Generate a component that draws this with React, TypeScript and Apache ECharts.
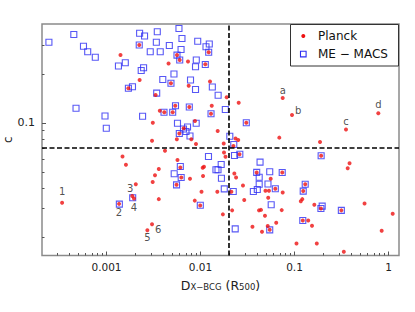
import React, { useEffect, useRef } from "react";
import * as echarts from "echarts";

// ---- data (D_X-BCG in R500, concentration c) ----
// Planck clusters
const planckX = [
  0.00141, 0.00223, 0.00225, 0.00171, 0.00333, 0.00369, 0.00412, 0.00311, 0.00305, 0.00457,
  0.00562, 0.00601, 0.00736, 0.01125, 0.01222, 0.00485, 0.01262, 0.00749, 0.00539, 0.0076,
  0.00506, 0.01294, 0.01318, 0.019, 0.0255, 0.0749, 0.0941, 0.353, 0.779, 0.00874,
  0.01524, 0.0056, 0.00798, 0.0236, 0.0252, 0.0689, 0.0307, 0.1868, 0.00662, 0.00595,
  0.01766, 0.00895, 0.00419, 0.00148, 0.00161, 0.0036, 0.00328, 0.0031, 0.00205, 0.000337,
  0.00136, 0.00188, 0.00196, 0.0036, 0.00272, 0.00305, 0.00569, 0.0061, 0.00625, 0.00556,
  0.00773, 0.01055, 0.01089, 0.01064, 0.01025, 0.00869, 0.00993, 0.01778, 0.01845, 0.0224,
  0.026, 0.0151, 0.0213, 0.0217, 0.0173, 0.0229, 0.0239, 0.0283, 0.0292, 0.0396,
  0.0741, 0.0558, 0.0625, 0.0491, 0.0535, 0.0525, 0.0749, 0.0419, 0.044, 0.0485,
  0.0639, 0.0519, 0.0545, 0.0357, 0.0451, 0.192, 0.385, 0.368, 0.13, 0.1238,
  0.121, 0.1167, 0.1625, 0.191, 0.315, 0.556, 1.108, 0.1225, 0.14, 0.1535,
  0.846, 0.105, 0.1726, 0.3346, 0.0731,
];
const planckY = [
  0.261, 0.301, 0.1837, 0.1633, 0.1486, 0.1188, 0.1163, 0.1004, 0.0779, 0.2317,
  0.261, 0.2435, 0.2384, 0.2291, 0.2715, 0.1752, 0.1797, 0.1694, 0.1276, 0.1253,
  0.1163, 0.114, 0.1276, 0.1438, 0.1331, 0.1423, 0.1119, 0.0912, 0.1148, 0.1029,
  0.0893, 0.0794, 0.0794, 0.0804, 0.0787, 0.0813, 0.1004, 0.0764, 0.0928, 0.0862,
  0.0748, 0.0743, 0.0676, 0.0623, 0.0554, 0.0522, 0.0478, 0.0434, 0.0421, 0.0324,
  0.0319, 0.0356, 0.0344, 0.0341, 0.022, 0.0239, 0.0593, 0.0533, 0.0463, 0.0418,
  0.0455, 0.0532, 0.0539, 0.0473, 0.0378, 0.0334, 0.0312, 0.0659, 0.0621, 0.0722,
  0.0643, 0.0379, 0.0378, 0.0291, 0.0275, 0.049, 0.0463, 0.0414, 0.0337, 0.0497,
  0.0497, 0.0455, 0.0395, 0.0384, 0.0384, 0.0348, 0.0375, 0.0291, 0.0293, 0.027,
  0.0244, 0.0233, 0.0221, 0.0231, 0.0215, 0.0629, 0.0566, 0.0527, 0.0421, 0.0382,
  0.0341, 0.0331, 0.0315, 0.0299, 0.0291, 0.0321, 0.0277, 0.0252, 0.0252, 0.0234,
  0.0218, 0.0182, 0.0182, 0.01623, 0.0292,
];
// tagged Planck points: [index in planck arrays, tag]
const planckTags: [number, string][] = [
  [49, "1"], [50, "2"], [51, "3"], [52, "4"], [54, "5"], [55, "6"],
  [25, "a"], [26, "b"], [27, "c"], [28, "d"],
];

// ME-MACS clusters
const macsX = [
  0.000244, 0.000449, 0.000569, 0.000631, 0.00076, 0.00134, 0.001585, 0.00225, 0.00254, 0.00223,
  0.00347, 0.00339, 0.00292, 0.00373, 0.00248, 0.00234, 0.00397, 0.00171, 0.00189, 0.00342,
  0.000474, 0.000964, 0.00242, 0.000995, 0.00409, 0.0059, 0.00635, 0.00466, 0.00934, 0.0124,
  0.01144, 0.01222, 0.00621, 0.00562, 0.00601, 0.00902, 0.00885, 0.01125, 0.00522, 0.00783,
  0.00485, 0.00885, 0.01336, 0.0154, 0.00542, 0.0076, 0.00506, 0.01294, 0.01837, 0.00569,
  0.009, 0.00659, 0.00728, 0.00701, 0.00773, 0.00595, 0.0307, 0.0205, 0.0226, 0.023,
  0.0262, 0.01216, 0.0166, 0.0146, 0.01535, 0.0167, 0.00525, 0.0061, 0.00623, 0.00556,
  0.00995, 0.0179, 0.0223, 0.0234, 0.043, 0.0396, 0.0545, 0.074, 0.0421, 0.0421,
  0.0522, 0.0365, 0.0402, 0.0625, 0.0565, 0.0545, 0.192, 0.13, 0.1238, 0.197,
  0.191, 0.315, 0.1225, 0.00137, 0.0019,
];
const macsY = [
  0.3126, 0.349, 0.2955, 0.2734, 0.2529, 0.2239, 0.2344, 0.3551, 0.3418, 0.301,
  0.3627, 0.3131, 0.2734, 0.2734, 0.2183, 0.2101, 0.1849, 0.1633, 0.1668, 0.1524,
  0.1231, 0.1104, 0.1099, 0.0928, 0.1163, 0.38, 0.33, 0.2988, 0.3171, 0.3055,
  0.2935, 0.2715, 0.2825, 0.261, 0.2435, 0.2435, 0.2213, 0.2286, 0.1998, 0.1837,
  0.1752, 0.1605, 0.1664, 0.148, 0.1276, 0.1253, 0.1163, 0.114, 0.121, 0.0996,
  0.0996, 0.0919, 0.0945, 0.0887, 0.0832, 0.0862, 0.1004, 0.0829, 0.0738, 0.0632,
  0.0643, 0.0623, 0.0556, 0.0517, 0.0517, 0.0458, 0.0488, 0.0541, 0.0463, 0.0417,
  0.0313, 0.0394, 0.038, 0.0224, 0.0575, 0.0498, 0.0502, 0.0497, 0.0465, 0.0421,
  0.0422, 0.038, 0.0391, 0.0395, 0.0315, 0.0221, 0.0629, 0.0421, 0.0382, 0.0309,
  0.0299, 0.0291, 0.0252, 0.0318, 0.0348,
];

// axes
const xLimits = [0.000206, 1.293];
const yLimits = [0.01538, 0.4049];
const xMajorTicks = [0.001, 0.01, 0.1, 1];
const xMinorTicks = [
  0.0003, 0.0004, 0.0005, 0.0006, 0.0007, 0.0008, 0.0009,
  0.002, 0.003, 0.004, 0.005, 0.006, 0.007, 0.008, 0.009,
  0.02, 0.03, 0.04, 0.05, 0.06, 0.07, 0.08, 0.09,
  0.2, 0.3, 0.4, 0.5, 0.6, 0.7, 0.8, 0.9,
];
const yMajorTicks = [0.1];
const yMinorTicks = [0.02, 0.03, 0.04, 0.05, 0.06, 0.07, 0.08, 0.09, 0.2, 0.3];
const xCut = 0.0205;
const yCut = 0.075;
const seriesNames = ["Planck", "ME \u2212 MACS"];

const FONT = "DejaVu Sans";
const RED = "#ee1111";
const BLUE = "#2d2df2";
const TXT = "#222";

const tagStyle: Record<string, any> = {
  "1": { position: "top", distance: 4 },
  "2": { position: "bottom", distance: 2 },
  "3": { position: "top", distance: 1, offset: [-2, 0] },
  "4": { position: "bottom", distance: 2 },
  "5": { position: "bottom", distance: 0 },
  "6": { position: "right", distance: 1, offset: [0, 5] },
  a: { position: "top", distance: 1 },
  b: { position: "right", distance: 1, offset: [0, -5] },
  c: { position: "top", distance: 1 },
  d: { position: "top", distance: 2 },
};

const fmt = (v: number) => String(+Number(v).toPrecision(6));

export default function App() {
  const ref = useRef<HTMLDivElement>(null);
  useEffect(() => {
    if (!ref.current) return;
    const chart = echarts.init(ref.current, undefined, { renderer: "svg" });
    const tagMap = new Map<number, string>(planckTags);
    const planckData = planckX.map((x, i) => {
      const tag = tagMap.get(i);
      if (!tag) return [x, planckY[i]];
      return {
        value: [x, planckY[i]],
        label: {
          show: true,
          formatter: tag,
          fontSize: 10,
          color: TXT,
          fontFamily: FONT,
          ...tagStyle[tag],
        },
      };
    });
    const macsData = macsX.map((x, i) => [x, macsY[i]]);

    const baseAxis = {
      type: "log" as const,
      logBase: 10,
      axisLine: { show: false },
      splitLine: { show: false },
    };

    chart.setOption({
      animation: false,
      textStyle: { fontFamily: FONT },
      grid: {
        left: 42,
        right: 16,
        top: 24,
        bottom: 56.5,
        containLabel: false,
        outerBoundsMode: "none",
        show: true,
        borderColor: "#8a8a8a",
        borderWidth: 1.5,
        backgroundColor: "transparent",
      },
      xAxis: [
        {
          ...baseAxis,
          min: xLimits[0],
          max: xLimits[1],
          position: "bottom",
          axisTick: {
            show: true,
            inside: true,
            length: 4,
            customValues: xMajorTicks,
            lineStyle: { color: "#555", width: 1 },
          },
          axisLabel: {
            show: true,
            customValues: xMajorTicks,
            formatter: fmt,
            fontSize: 10.5,
            color: TXT,
            margin: 6,
          },
          name: "{m|D}{s|X\u2212BCG}{m| (R}{s|500}{m|)}",
          nameLocation: "middle",
          nameGap: 23,
          nameTextStyle: {
            rich: {
              m: { fontSize: 12.5, color: TXT, fontFamily: FONT, verticalAlign: "bottom" },
              s: { fontSize: 8.5, color: TXT, fontFamily: FONT, verticalAlign: "bottom" },
            },
          },
        },
        {
          ...baseAxis,
          min: xLimits[0],
          max: xLimits[1],
          position: "bottom",
          axisLabel: { show: false },
          axisTick: {
            show: true,
            inside: true,
            length: 2.5,
            customValues: xMinorTicks,
            lineStyle: { color: "#555", width: 1 },
          },
        },
      ],
      yAxis: [
        {
          ...baseAxis,
          min: yLimits[0],
          max: yLimits[1],
          position: "left",
          axisTick: {
            show: true,
            inside: true,
            length: 4,
            customValues: yMajorTicks,
            lineStyle: { color: "#555", width: 1 },
          },
          axisLabel: {
            show: true,
            customValues: yMajorTicks,
            formatter: fmt,
            fontSize: 11,
            color: TXT,
            margin: 7,
          },
          name: "c",
          nameLocation: "middle",
          nameRotate: 90,
          nameGap: 28,
          nameMoveOverlap: false,
          nameTextStyle: { fontSize: 12, color: TXT, fontFamily: FONT },
        },
        {
          ...baseAxis,
          min: yLimits[0],
          max: yLimits[1],
          position: "left",
          axisLabel: { show: false },
          axisTick: {
            show: true,
            inside: true,
            length: 2.5,
            customValues: yMinorTicks,
            lineStyle: { color: "#555", width: 1 },
          },
        },
      ],
      series: [
        {
          type: "scatter",
          name: seriesNames[1],
          xAxisIndex: 0,
          yAxisIndex: 0,
          symbol: "rect",
          symbolSize: 6,
          itemStyle: { color: "rgba(0,0,0,0)", borderColor: BLUE, borderWidth: 1.1 },
          data: macsData,
          z: 2,
        },
        {
          type: "scatter",
          name: seriesNames[0],
          xAxisIndex: 0,
          yAxisIndex: 0,
          symbol: "circle",
          symbolSize: 4,
          itemStyle: { color: RED },
          data: planckData,
          z: 3,
          markLine: {
            silent: true,
            symbol: "none",
            label: { show: false },
            lineStyle: { color: "#000", width: 1.6, type: [5, 2.5] },
            data: [{ xAxis: xCut }, { yAxis: yCut }],
          },
        },
      ],
      graphic: [
        {
          type: "rect",
          z: 100,
          shape: { x: 290.5, y: 24.5, width: 108, height: 41.5 },
          style: { fill: "#fff", stroke: "#333", lineWidth: 1 },
        },
        {
          type: "circle",
          z: 101,
          shape: { cx: 303.3, cy: 36, r: 2 },
          style: { fill: RED },
        },
        {
          type: "text",
          z: 101,
          x: 318,
          y: 36,
          style: {
            text: seriesNames[0],
            fontSize: 12,
            fontFamily: FONT,
            fill: "#111",
            verticalAlign: "middle",
          },
        },
        {
          type: "rect",
          z: 101,
          shape: { x: 300.5, y: 51.3, width: 5.6, height: 5.6 },
          style: { fill: "none", stroke: BLUE, lineWidth: 1.1 },
        },
        {
          type: "text",
          z: 101,
          x: 318,
          y: 54,
          style: {
            text: seriesNames[1],
            fontSize: 12,
            fontFamily: FONT,
            fill: "#111",
            verticalAlign: "middle",
          },
        },
      ],
    });
    return () => chart.dispose();
  }, []);
  return (
    <div
      ref={ref}
      style={{ position: "fixed", left: 0, top: 0, width: 415, height: 312, background: "#fff" }}
    />
  );
}
